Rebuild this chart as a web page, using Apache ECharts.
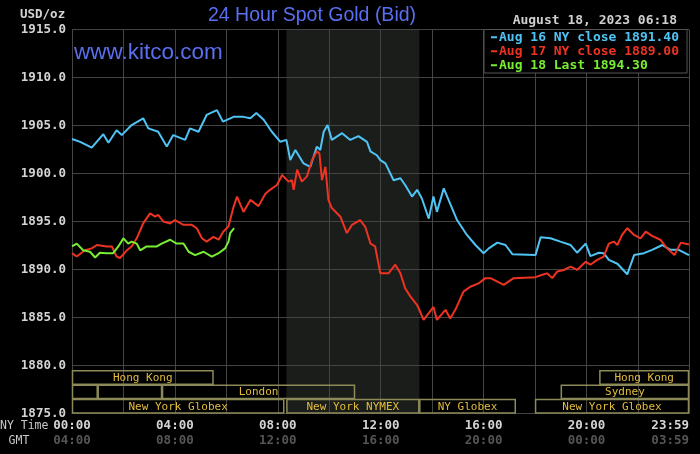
<!DOCTYPE html>
<html>
<head>
<meta charset="utf-8">
<script src="https://cdn.jsdelivr.net/npm/echarts@6/dist/echarts.min.js"></script>
<style>
html,body{margin:0;padding:0;background:#000;}
#c{width:700px;height:454px;}
</style>
</head>
<body>
<div id="c"></div>
<script>
// ---- data (minutes after NY midnight, USD/oz) ----
var seriesNames = ['Aug 16 NY close 1891.40', 'Aug 17 NY close 1889.00', 'Aug 18 Last 1894.30'];

var aug16Min = [0,19,46,73,85,104,116,139,166,178,201,221,236,264,275,295,314,338,352,377,400,416,430,447,466,486,500,509,521,540,556,571,579,587,596,606,630,649,668,688,696,711,719,731,750,766,777,793,805,816,832,843,851,867,898,921,941,960,972,992,1011,1027,1081,1093,1116,1139,1163,1178,1198,1209,1229,1240,1252,1272,1295,1311,1334,1353,1377,1396,1415,1439];
var aug16Val = [1903.6,1903.3,1902.7,1904.1,1903.2,1904.5,1904.0,1905.05,1905.75,1904.7,1904.35,1902.8,1904.0,1903.5,1904.7,1904.35,1906.1,1906.6,1905.4,1905.9,1905.9,1905.75,1906.3,1905.6,1904.35,1903.3,1903.5,1901.4,1902.45,1901.05,1900.7,1902.8,1902.45,1904.35,1905.05,1903.5,1904.2,1903.5,1903.9,1903.3,1902.3,1901.9,1901.4,1901.05,1899.3,1899.5,1898.8,1897.6,1898.3,1897.4,1895.3,1897.6,1896.0,1898.45,1895.15,1893.6,1892.55,1891.7,1892.2,1892.8,1892.55,1891.6,1891.5,1893.35,1893.25,1892.9,1892.55,1891.75,1892.7,1891.4,1891.75,1891.7,1891.0,1890.6,1889.5,1891.5,1891.7,1892.05,1892.55,1892.05,1892.05,1891.5];

var aug17Min = [0,11,30,46,58,81,93,104,112,128,139,151,166,182,194,201,213,229,240,260,279,291,303,314,330,342,353,365,377,385,388,400,416,435,451,462,478,490,505,513,517,525,536,548,560,571,577,583,591,598,606,626,641,653,672,684,696,707,719,738,754,766,777,789,805,820,832,843,851,871,882,894,913,929,948,964,976,1007,1030,1081,1097,1108,1120,1132,1147,1163,1178,1198,1209,1225,1240,1252,1264,1272,1283,1295,1311,1326,1338,1353,1372,1388,1405,1420,1439];
var aug17Val = [1891.7,1891.35,1892.0,1892.2,1892.55,1892.4,1892.4,1891.35,1891.2,1892.0,1892.4,1893.25,1894.8,1895.85,1895.5,1895.7,1895.0,1894.8,1895.15,1894.65,1894.65,1894.3,1893.25,1892.9,1893.4,1893.1,1893.95,1894.5,1896.55,1897.6,1897.25,1896.0,1897.25,1896.6,1897.9,1898.3,1898.8,1899.85,1899.15,1899.3,1898.3,1900.4,1899.15,1899.7,1901.4,1902.3,1902.1,1899.3,1900.7,1897.25,1896.4,1895.5,1893.8,1894.65,1895.15,1894.45,1892.7,1892.4,1889.6,1889.6,1890.5,1889.6,1888.05,1887.2,1886.3,1884.75,1885.45,1886.1,1884.75,1885.8,1884.9,1885.8,1887.7,1888.2,1888.55,1889.1,1889.1,1888.4,1889.1,1889.2,1889.45,1889.6,1889.1,1889.8,1889.95,1890.3,1889.95,1890.8,1890.5,1891.0,1891.35,1892.7,1892.9,1892.55,1893.6,1894.3,1893.6,1893.25,1893.95,1893.5,1893.1,1892.2,1891.5,1892.8,1892.6];

var aug18Min = [0,11,26,42,54,65,81,96,108,120,131,139,151,159,174,186,198,209,229,244,260,272,287,307,326,342,357,365,369,378];
var aug18Val = [1892.4,1892.7,1892.0,1891.85,1891.25,1891.75,1891.7,1891.7,1892.4,1893.25,1892.7,1892.9,1892.7,1892.0,1892.4,1892.4,1892.4,1892.7,1893.1,1892.7,1892.7,1891.85,1891.5,1891.85,1891.35,1891.7,1892.2,1892.9,1893.8,1894.3];

var yTicks = [1875, 1880, 1885, 1890, 1895, 1900, 1905, 1910, 1915];

// trading sessions (NY time)
var sessionNames = ['Hong Kong','Hong Kong','','','London','Sydney','New York Globex','New York NYMEX','NY Globex','New York Globex'];
var sessionStart = ['00:00','20:30','00:00','01:00','03:30','19:00','00:00','08:20','13:30','18:00'];
var sessionEnd   = ['05:30','23:59','01:00','03:30','11:00','23:59','08:15','13:30','17:15','23:59'];
var sessionRow   = [0,0,1,1,1,1,2,2,2,2];
var nymexShade = ['08:20','13:30'];

// ---- build ----
function toMin(s){ var p = s.split(':'); return (+p[0])*60 + (+p[1]); }
function pad(n){ return (n<10?'0':'') + n; }
function fmt(m){ return pad(Math.floor(m/60)) + ':' + pad(m%60); }
function zip(a, b){ return a.map(function(v, i){ return [v, b[i]]; }); }

var sessData = sessionNames.map(function(n, i){
  return [toMin(sessionStart[i]), toMin(sessionEnd[i]), sessionRow[i]];
});

var colors = ['#4fc4f4', '#ee3322', '#78ee33'];
var mono = 'DejaVu Sans Mono';

var chart = echarts.init(document.getElementById('c'));
chart.setOption({
  backgroundColor: '#000',
  animation: false,
  grid: { left: 72, right: 11, top: 29.5, bottom: 40.5 },
  xAxis: {
    type: 'value', min: 0, max: 1439, interval: 120,
    axisLine: { show: true, lineStyle: { color: '#444', width: 1 } },
    axisTick: { show: false },
    splitLine: { show: true, lineStyle: { color: '#444', width: 1 } },
    axisLabel: {
      margin: 5,
      alignMaxLabel: 'right',
      formatter: function(v){
        if (v % 240 !== 0 && v !== 1439) return '';
        var g = (v + 240) % 1440;
        return '{a|' + fmt(v) + '}\n{b|' + fmt(g) + '}';
      },
      rich: {
        a: { color: '#d4d4d4', fontFamily: mono, fontWeight: 'bold', fontSize: 12.5, lineHeight: 15 },
        b: { color: '#555', fontFamily: mono, fontWeight: 'bold', fontSize: 12.5, lineHeight: 15 }
      }
    }
  },
  yAxis: {
    type: 'value', min: yTicks[0], max: yTicks[yTicks.length-1], interval: 5,
    axisLine: { show: true, lineStyle: { color: '#444' } },
    axisTick: { show: false },
    splitLine: { show: true, lineStyle: { color: '#444', width: 1 } },
    axisLabel: {
      margin: 6, color: '#d4d4d4', fontFamily: mono, fontWeight: 'bold', fontSize: 12.5,
      formatter: function(v){ return v.toFixed(1); }
    }
  },
  legend: {
    data: seriesNames.map(function(n, i){ return { name: n, textStyle: { color: colors[i] } }; }),
    orient: 'vertical', left: 484, top: 29.5,
    icon: 'rect', itemWidth: 6, itemHeight: 2, itemGap: 0.5,
    padding: [1, 8, 1, 7],
    backgroundColor: '#000', borderColor: '#555', borderWidth: 1,
    selectedMode: false, z: 20,
    textStyle: { fontFamily: mono, fontWeight: 'bold', fontSize: 13, lineHeight: 13.5, padding: [0,0,0,-3] }
  },
  graphic: [
    { type: 'text', left: 20, top: 8, style: { text: 'USD/oz', fill: '#d4d4d4', font: 'bold 12.5px "DejaVu Sans Mono"' } },
    { type: 'text', x: 312, y: 16, style: { text: '24 Hour Spot Gold (Bid)', fill: '#5a6ef0', font: '19.5px "Liberation Sans"', align: 'center', verticalAlign: 'middle' } },
    { type: 'text', x: 74, y: 53, style: { text: 'www.kitco.com', fill: '#5a6ef0', font: '22.5px "Liberation Sans"', align: 'left', verticalAlign: 'middle' }, z: 30 },
    { type: 'text', x: 677, y: 21, style: { text: 'August 18, 2023 06:18', fill: '#cfcfcf', font: 'bold 13px "DejaVu Sans Mono"', align: 'right', verticalAlign: 'middle' } },
    { type: 'text', x: 0, y: 426, style: { text: 'NY Time', fill: '#c8c8c8', font: '11.5px "DejaVu Sans Mono"', align: 'left', verticalAlign: 'middle' } },
    { type: 'text', x: 19, y: 441, style: { text: 'GMT', fill: '#c8c8c8', font: '11.5px "DejaVu Sans Mono"', align: 'center', verticalAlign: 'middle' } }
  ],
  series: [
    {
      name: 'shade', type: 'custom', z: -1, silent: true, clip: true,
      data: [[toMin(nymexShade[0]), toMin(nymexShade[1])]],
      encode: { x: [0, 1] },
      renderItem: function(params, api){
        var p1 = api.coord([api.value(0), yTicks[yTicks.length-1]]);
        var p2 = api.coord([api.value(1), yTicks[0]]);
        return { type: 'rect', shape: { x: p1[0], y: p1[1], width: p2[0] - p1[0], height: p2[1] - p1[1] },
                 style: { fill: '#1a1d19' } };
      }
    },
    {
      name: seriesNames[0], type: 'line', data: zip(aug16Min, aug16Val), showSymbol: false,
      lineStyle: { color: colors[0], width: 2 }, itemStyle: { color: colors[0] }, z: 3
    },
    {
      name: seriesNames[1], type: 'line', data: zip(aug17Min, aug17Val), showSymbol: false,
      lineStyle: { color: colors[1], width: 2 }, itemStyle: { color: colors[1] }, z: 4
    },
    {
      name: seriesNames[2], type: 'line', data: zip(aug18Min, aug18Val), showSymbol: false,
      lineStyle: { color: colors[2], width: 2 }, itemStyle: { color: colors[2] }, z: 5
    },
    {
      name: 'sessions', type: 'custom', data: sessData, clip: false, silent: true, z: 6,
      encode: { x: [0, 1] },
      renderItem: function(params, api){
        var s = api.value(0), e = api.value(1), r = api.value(2);
        var top = 1879.45 - r * 1.5, bot = top - 1.4;
        var p1 = api.coord([s, top]), p2 = api.coord([e, bot]);
        var name = sessionNames[params.dataIndex];
        return {
          type: 'group',
          children: [
            { type: 'rect', shape: { x: p1[0] + 0.5, y: p1[1], width: p2[0] - p1[0] - 1, height: p2[1] - p1[1] },
              style: { fill: 'none', stroke: '#8c8a58', lineWidth: 1.5 } },
            { type: 'text', style: { text: name, x: (p1[0] + p2[0]) / 2, y: (p1[1] + p2[1]) / 2 + 0.5,
              align: 'center', verticalAlign: 'middle', fill: '#e2bd3c', font: '11px "DejaVu Sans Mono"' } }
          ]
        };
      }
    }
  ]
});
</script>
</body>
</html>
